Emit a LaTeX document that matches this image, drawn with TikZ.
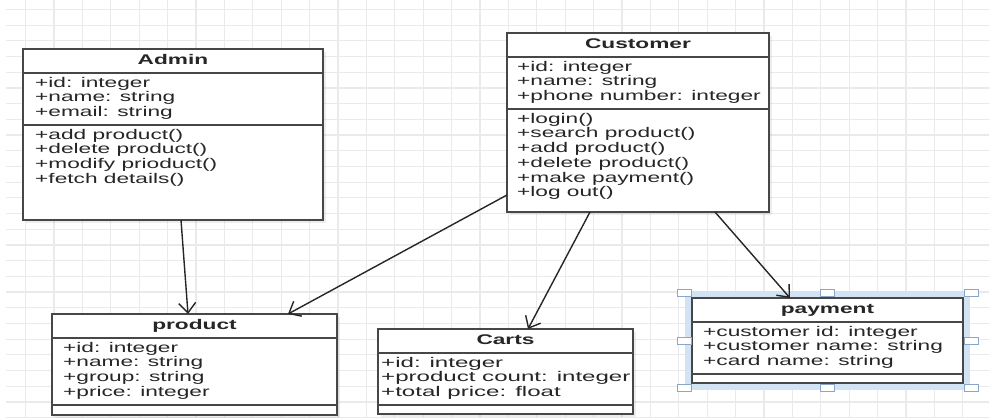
\documentclass[tikz,border=0pt]{standalone}
\usepackage{fontspec}
\newfontfamily\umlfont{Liberation Sans}[FakeStretch=1.62]
\newfontfamily\umlwidefont{Liberation Sans}[FakeStretch=1.72]
\usepackage{xcolor}
\usetikzlibrary{positioning, arrows.meta, shadows}

\definecolor{gridgray}{HTML}{EAEAEA}
\definecolor{boxgray}{HTML}{474747}
\definecolor{textgray}{HTML}{262626}
\definecolor{selblue}{HTML}{D2E4F4}
\definecolor{handleblue}{HTML}{8AA6C8}

\tikzset{
  gridline/.style={draw=gridgray, line width=1.2pt},
  classbox/.style={draw=boxgray, line width=1.8pt, fill=white, inner sep=0pt, outer sep=0pt,
    drop shadow={shadow xshift=3pt, shadow yshift=-3pt, fill=black, opacity=0.07}},
  selected/.style={preaction={draw=selblue, line width=14pt}},
  sepline/.style={draw=boxgray, line width=1.8pt},
  classtitle/.style={font=\umlfont\bfseries\fontsize{14}{14.7}\selectfont, text=textgray,
    text height=10.2pt, text depth=2.9pt, inner sep=0pt},
  members/.style={font=\umlfont\fontsize{14}{14.7}\selectfont, text=textgray,
    align=left, anchor=north west, inner sep=0pt},
  handle/.style={draw=handleblue, fill=white, line width=0.9pt, minimum width=14pt,
    minimum height=7pt, inner sep=0pt},
  assoc/.style={draw=black!85, line width=1.4pt, -{Straight Barb[length=10pt, width=17pt]}}
}

\begin{document}
\begin{tikzpicture}[x=1pt, y=-1pt]
\useasboundingbox (0,0) rectangle (989,418);

% background grid
\foreach \i in {0,...,33}
  \draw[gridline] (25.5+28.4*\i,0) -- (25.5+28.4*\i,418);
\foreach \j in {0,...,26}
  \draw[gridline] (6,9.4+15.7*\j) -- (989,9.4+15.7*\j);

% class boxes
\node[classbox, minimum width=300, minimum height=171] (admin) at (173,134.5) {};
\node[classbox, minimum width=262, minimum height=179] (customer) at (638,122.5) {};
\node[classbox, minimum width=285, minimum height=101] (product) at (194.5,364.5) {};
\node[classbox, minimum width=255, minimum height=85] (carts) at (505.5,371.5) {};
\node[classbox, selected, minimum width=271, minimum height=85] (payment) at (827.5,340.5) {};

% Admin
\node[classtitle] (admin-title) at ([yshift=-12]admin.north) {Admin};
\draw[sepline] ([yshift=-24]admin.north west) -- ([yshift=-24]admin.north east);
\draw[sepline] ([yshift=-76]admin.north west) -- ([yshift=-76]admin.north east);
\node[members] (admin-attr) at ([xshift=12, yshift=-27.9]admin.north west)
  {+id: integer\\+name: string\\+email: string};
\node[members] (admin-ops) at ([xshift=12, yshift=-79.9]admin.north west)
  {+add product()\\+delete product()\\+modify prioduct()\\+fetch details()};

% Customer
\node[classtitle] (customer-title) at ([yshift=-12]customer.north) {Customer};
\draw[sepline] ([yshift=-24]customer.north west) -- ([yshift=-24]customer.north east);
\draw[sepline] ([yshift=-76]customer.north west) -- ([yshift=-76]customer.north east);
\node[members] (customer-attr) at ([xshift=10, yshift=-27.9]customer.north west)
  {+id: integer\\+name: string\\+phone number: integer};
\node[members] (customer-ops) at ([xshift=10, yshift=-79.9]customer.north west)
  {+login()\\+search product()\\+add product()\\+delete product()\\+make payment()\\+log out()};

% product
\node[classtitle] (product-title) at ([yshift=-12]product.north) {product};
\draw[sepline] ([yshift=-24]product.north west) -- ([yshift=-24]product.north east);
\draw[sepline] ([yshift=-91]product.north west) -- ([yshift=-91]product.north east);
\node[members] (product-attr) at ([xshift=11, yshift=-27.9]product.north west)
  {+id: integer\\+name: string\\+group: string\\+price: integer};

% Carts
\node[classtitle] (carts-title) at ([yshift=-12]carts.north) {Carts};
\draw[sepline] ([yshift=-24]carts.north west) -- ([yshift=-24]carts.north east);
\draw[sepline] ([yshift=-76]carts.north west) -- ([yshift=-76]carts.north east);
\node[members, font=\umlwidefont\fontsize{14}{14.7}\selectfont] (carts-attr)
  at ([xshift=3, yshift=-27.9]carts.north west)
  {+id: integer\\+product count: integer\\+total price: float};

% payment
\node[classtitle] (payment-title) at ([yshift=-12]payment.north) {payment};
\draw[sepline] ([yshift=-24]payment.north west) -- ([yshift=-24]payment.north east);
\draw[sepline] ([yshift=-76]payment.north west) -- ([yshift=-76]payment.north east);
\node[members] (payment-attr) at ([xshift=11, yshift=-27.9]payment.north west)
  {+customer id: integer\\+customer name: string\\+card name: string};

% associations
\draw[assoc] ([xshift=8]admin.south) -- ([xshift=-6.5]product.north);
\draw[assoc] ([yshift=17]customer.south west) -- ([xshift=93.5]product.north);
\draw[assoc] ([xshift=-48]customer.south) -- ([xshift=22.5]carts.north);
\draw[assoc] ([xshift=77]customer.south) -- ([xshift=-37.5]payment.north);

% selection handles on payment
\foreach \anc/\dx/\dy [count=\k] in {north west/-8/5, north/0/5, north east/8/5,
    west/-8/0, east/8/0, south west/-8/-5, south/0/-5, south east/8/-5}
  \node[handle] (handle\k) at ([xshift=\dx, yshift=\dy]payment.\anc) {};
\end{tikzpicture}
\end{document}
